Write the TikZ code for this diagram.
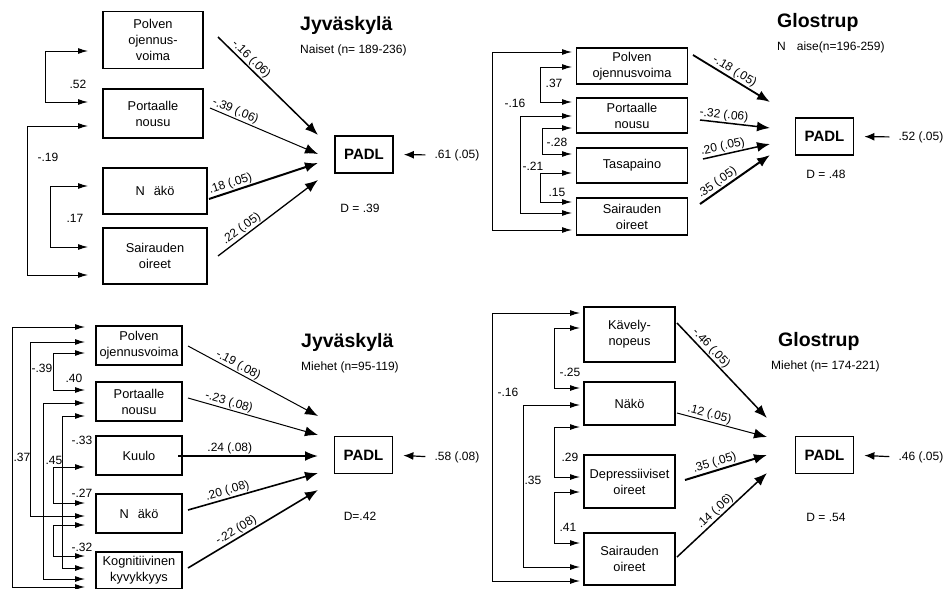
\documentclass[tikz,border=0pt]{standalone}
\usepackage{fontspec}
\setmainfont{Liberation Sans}
\usetikzlibrary{arrows.meta, positioning, calc}

\newcommand{\boxfont}{\fontsize{12.8}{16}\selectfont}
\newcommand{\coeffont}{\fontsize{12}{14}\selectfont}
\newcommand{\titlefont}{\fontsize{19.5}{22}\selectfont\bfseries}
\newcommand{\padlfont}{\fontsize{15}{18}\selectfont\bfseries}

\begin{document}
\begin{tikzpicture}[
    x=1pt, y=-1pt,
    var_block/.style={
            draw,
            line width=1.2pt,
            align=center,
            font=\boxfont,
            inner sep=1pt
        },
    padl_block/.style={
            draw,
            line width=1.8pt,
            font=\padlfont,
            minimum width=58,
            minimum height=37
        },
    coef_label/.style={font=\coeffont, inner sep=1pt},
    title_label/.style={font=\titlefont, anchor=west, inner sep=1pt},
    sub_label/.style={font=\coeffont, inner sep=1pt},
    path_arrow/.style={-{Latex[length=13pt, width=10pt]}, line width=1pt},
    corr_arrow/.style={{Latex[length=10pt, width=6pt]}-{Latex[length=10pt, width=6pt]}, line width=1pt},
    resid_arrow/.style={-{Latex[length=10pt, width=8pt]}, line width=1.2pt, shorten <=8pt, shorten >=10pt}
    ]

    \useasboundingbox (0,0) rectangle (946,589);

    % --- Jyvaskyla, naiset ---
    \node (polven_jn) [var_block, minimum width=100, minimum height=57] at (153,40) {Polven\\ojennus-\\voima};
    \node (portaalle_jn) [var_block, minimum width=100, minimum height=49] at (153,113.5) {Portaalle\\nousu};
    \node (nako_jn) [var_block, minimum width=104, minimum height=46] at (155,191) {N\hspace{9pt}äkö};
    \node (sairaus_jn) [var_block, minimum width=104, minimum height=56] at (155,256) {Sairauden\\oireet};
    \node (padl_jn) [padl_block] at (364,154.5) {PADL};
    \node (title_jn) [title_label] at (299,25) {Jyväskylä};
    \node (sub_jn) [sub_label, below=8pt of title_jn.south west, anchor=north west] {Naiset (n= 189-236)};
    \node (e_jn) [coef_label] at (457,155) {.61 (.05)};
    \node (d_jn) [coef_label] at (360,208) {D = .39};

    \coordinate (jn_s1) at (218,37);  \coordinate (jn_t1) at (318,135);
    \coordinate (jn_s2) at (210,108); \coordinate (jn_t2) at (318,154);
    \coordinate (jn_s3) at (209,199); \coordinate (jn_t3) at (318,163);
    \coordinate (jn_s4) at (218,256); \coordinate (jn_t4) at (318,180);

    \draw[path_arrow, line width=1.5pt] (jn_s1) -- (jn_t1) node (jn_p1) [coef_label, sloped, above, pos=0.28] {-.16 (.06)};
    \draw[path_arrow] (jn_s2) -- (jn_t2) node (jn_p2) [coef_label, sloped, above, pos=0.21] {-.39 (.06)};
    \draw[path_arrow, line width=2pt] (jn_s3) -- (jn_t3) node (jn_p3) [coef_label, sloped, above, pos=0.22] {.18 (.05)};
    \draw[path_arrow, line width=1.3pt] (jn_s4) -- (jn_t4) node (jn_p4) [coef_label, sloped, above, pos=0.28] {.22 (.05)};
    \draw[resid_arrow] (e_jn.west) -- (padl_jn.east);

    \coordinate (jn_a1) at (88,51);  \coordinate (jn_a2) at (88,102);
    \coordinate (jn_b1) at (88,126); \coordinate (jn_b2) at (88,275);
    \coordinate (jn_c1) at (88,186); \coordinate (jn_c2) at (88,247);
    \draw[corr_arrow] (jn_a1) -- ++(-43,0) |- (jn_a2);
    \draw[corr_arrow] (jn_b1) -- ++(-61,0) |- (jn_b2);
    \draw[corr_arrow] (jn_c1) -- ++(-38,0) |- (jn_c2);
    \node (jn_r1) [coef_label] at (78,84) {.52};
    \node (jn_r2) [coef_label] at (48,157) {-.19};
    \node (jn_r3) [coef_label] at (75,218) {.17};

    % --- Glostrup, naiset ---
    \node (polven_gn) [var_block, minimum width=111, minimum height=36] at (632,66) {Polven\\ojennusvoima};
    \node (portaalle_gn) [var_block, minimum width=111, minimum height=35] at (632,115.5) {Portaalle\\nousu};
    \node (tasapaino_gn) [var_block, minimum width=111, minimum height=35] at (632,165.5) {Tasapaino};
    \node (sairaus_gn) [var_block, minimum width=111, minimum height=37] at (632,216.5) {Sairauden\\oireet};
    \node (padl_gn) [padl_block] at (824.5,136.5) {PADL};
    \node (title_gn) [title_label] at (776,22) {Glostrup};
    \node (sub_gn) [sub_label, below=8pt of title_gn.south west, anchor=north west] {N\hspace{11pt}aise(n=196-259)};
    \node (e_gn) [coef_label] at (921,137) {.52 (.05)};
    \node (d_gn) [coef_label] at (826,174) {D = .48};

    \coordinate (gn_s1) at (693,55);  \coordinate (gn_t1) at (770,102);
    \coordinate (gn_s2) at (700,120); \coordinate (gn_t2) at (770,128);
    \coordinate (gn_s3) at (703,159); \coordinate (gn_t3) at (770,144);
    \coordinate (gn_s4) at (700,204); \coordinate (gn_t4) at (770,155);

    \draw[path_arrow, line width=1.8pt] (gn_s1) -- (gn_t1) node (gn_p1) [coef_label, sloped, above, pos=0.49] {-.18 (.05)};
    \draw[path_arrow, line width=1.5pt] (gn_s2) -- (gn_t2) node (gn_p2) [coef_label, sloped, above, pos=0.33] {-.32 (.06)};
    \draw[path_arrow, line width=1.5pt] (gn_s3) -- (gn_t3) node (gn_p3) [coef_label, sloped, above, pos=0.32] {.20 (.05)};
    \draw[path_arrow, line width=2pt] (gn_s4) -- (gn_t4) node (gn_p4) [coef_label, sloped, above, pos=0.31] {.35 (.05)};
    \draw[resid_arrow] (e_gn.west) -- (padl_gn.east);

    \coordinate (gn_a1) at (572,52);  \coordinate (gn_a2) at (572,230);
    \coordinate (gn_b1) at (572,67);  \coordinate (gn_b2) at (572,102);
    \coordinate (gn_c1) at (572,116); \coordinate (gn_c2) at (572,213);
    \coordinate (gn_d1) at (572,128); \coordinate (gn_d2) at (572,154);
    \coordinate (gn_e1) at (572,173); \coordinate (gn_e2) at (572,202);
    \draw[corr_arrow] (gn_a1) -- ++(-80,0) |- (gn_a2);
    \draw[corr_arrow] (gn_b1) -- ++(-32,0) |- (gn_b2);
    \draw[corr_arrow] (gn_c1) -- ++(-52,0) |- (gn_c2);
    \draw[corr_arrow] (gn_d1) -- ++(-30,0) |- (gn_d2);
    \draw[corr_arrow] (gn_e1) -- ++(-32,0) |- (gn_e2);
    \node (gn_r1) [coef_label] at (515,103) {-.16};
    \node (gn_r2) [coef_label] at (554,83) {.37};
    \node (gn_r3) [coef_label] at (533,166) {-.21};
    \node (gn_r4) [coef_label] at (557,142) {-.28};
    \node (gn_r5) [coef_label] at (557,192) {.15};

    % --- Jyvaskyla, miehet ---
    \node (polven_jm) [var_block, minimum width=86, minimum height=39] at (139,345.5) {Polven\\ojennusvoima};
    \node (portaalle_jm) [var_block, minimum width=86, minimum height=39] at (139,401.5) {Portaalle\\nousu};
    \node (kuulo_jm) [var_block, minimum width=86, minimum height=39] at (139,455.5) {Kuulo};
    \node (nako_jm) [var_block, minimum width=86, minimum height=39] at (139,513.5) {N\hspace{9pt}äkö};
    \node (kogn_jm) [var_block, minimum width=86, minimum height=37] at (139,570.5) {Kognitiivinen\\kyvykkyys};
    \node (padl_jm) [padl_block] at (363.5,455) {PADL};
    \node (title_jm) [title_label] at (300,342) {Jyväskylä};
    \node (sub_jm) [sub_label, below=8pt of title_jm.south west, anchor=north west] {Miehet (n=95-119)};
    \node (e_jm) [coef_label] at (457,457) {.58 (.08)};
    \node (d_jm) [coef_label] at (360,516) {D=.42};

    \coordinate (jm_s1) at (188,346); \coordinate (jm_t1) at (318,416);
    \coordinate (jm_s2) at (188,398); \coordinate (jm_t2) at (318,435);
    \coordinate (jm_s3) at (178,456); \coordinate (jm_t3) at (318,456);
    \coordinate (jm_s4) at (188,510); \coordinate (jm_t4) at (318,473);
    \coordinate (jm_s5) at (188,568); \coordinate (jm_t5) at (318,490);

    \draw[path_arrow] (jm_s1) -- (jm_t1) node (jm_p1) [coef_label, sloped, above, pos=0.36] {-.19 (.08)};
    \draw[path_arrow] (jm_s2) -- (jm_t2) node (jm_p2) [coef_label, sloped, above, pos=0.30] {-.23 (.08)};
    \draw[path_arrow, line width=2pt] (jm_s3) -- (jm_t3) node (jm_p3) [coef_label, above, pos=0.37] {.24 (.08)};
    \draw[path_arrow, line width=1.6pt] (jm_s4) -- (jm_t4) node (jm_p4) [coef_label, sloped, above, pos=0.32] {.20 (.08)};
    \draw[path_arrow, line width=1.6pt] (jm_s5) -- (jm_t5) node (jm_p5) [coef_label, sloped, above, pos=0.40] {-.22 (08)};
    \draw[resid_arrow] (e_jm.west) -- (padl_jm.east);

    \coordinate (jm_a1) at (85,327); \coordinate (jm_a2) at (85,587);
    \coordinate (jm_b1) at (85,342); \coordinate (jm_b2) at (85,516);
    \coordinate (jm_c1) at (85,353); \coordinate (jm_c2) at (85,390);
    \coordinate (jm_d1) at (85,403); \coordinate (jm_d2) at (85,579);
    \coordinate (jm_e1) at (85,416); \coordinate (jm_e2) at (85,568);
    \coordinate (jm_f1) at (85,467); \coordinate (jm_f2) at (85,503);
    \coordinate (jm_g1) at (85,525); \coordinate (jm_g2) at (85,556);
    \draw[corr_arrow] (jm_a1) -- ++(-73,0) |- (jm_a2);
    \draw[corr_arrow] (jm_b1) -- ++(-55,0) |- (jm_b2);
    \draw[corr_arrow] (jm_c1) -- ++(-32,0) |- (jm_c2);
    \draw[corr_arrow] (jm_d1) -- ++(-42,0) |- (jm_d2);
    \draw[corr_arrow] (jm_e1) -- ++(-23,0) |- (jm_e2);
    \draw[corr_arrow] (jm_f1) -- ++(-32,0) |- (jm_f2);
    \draw[corr_arrow] (jm_g1) -- ++(-32,0) |- (jm_g2);
    \node (jm_r1) [coef_label] at (22,457) {.37};
    \node (jm_r2) [coef_label] at (42,368) {-.39};
    \node (jm_r3) [coef_label] at (74,378) {.40};
    \node (jm_r4) [coef_label] at (54,460) {.45};
    \node (jm_r5) [coef_label] at (82,440) {-.33};
    \node (jm_r6) [coef_label] at (82,493) {-.27};
    \node (jm_r7) [coef_label] at (82,547) {-.32};

    % --- Glostrup, miehet ---
    \node (kavely_gm) [var_block, minimum width=91, minimum height=55] at (629.5,334.5) {Kävely-\\nopeus};
    \node (nako_gm) [var_block, minimum width=91, minimum height=43] at (629.5,403.5) {Näkö};
    \node (depr_gm) [var_block, minimum width=91, minimum height=53] at (629.5,481.5) {Depressiiviset\\oireet};
    \node (sairaus_gm) [var_block, minimum width=91, minimum height=52] at (629.5,559) {Sairauden\\oireet};
    \node (padl_gm) [padl_block] at (824.5,455) {PADL};
    \node (title_gm) [title_label] at (777,341) {Glostrup};
    \node (sub_gm) [sub_label, below=8pt of title_gm.south west, anchor=north west, xshift=-7pt] {Miehet (n= 174-221)};
    \node (e_gm) [coef_label] at (921,457) {.46 (.05)};
    \node (d_gm) [coef_label] at (826,517) {D = .54};

    \coordinate (gm_s1) at (677,323); \coordinate (gm_t1) at (767,418);
    \coordinate (gm_s2) at (677,413); \coordinate (gm_t2) at (767,437);
    \coordinate (gm_s3) at (685,480); \coordinate (gm_t3) at (767,455);
    \coordinate (gm_s4) at (677,557); \coordinate (gm_t4) at (767,473);

    \draw[path_arrow, line width=1.5pt] (gm_s1) -- (gm_t1) node (gm_p1) [coef_label, sloped, above, pos=0.32] {-.46 (.05)};
    \draw[path_arrow] (gm_s2) -- (gm_t2) node (gm_p2) [coef_label, sloped, above, pos=0.34] {.12 (.05)};
    \draw[path_arrow, line width=2pt] (gm_s3) -- (gm_t3) node (gm_p3) [coef_label, sloped, above, pos=0.39] {.35 (.05)};
    \draw[path_arrow, line width=1.5pt] (gm_s4) -- (gm_t4) node (gm_p4) [coef_label, sloped, above, pos=0.48] {.14 (.06)};
    \draw[resid_arrow] (e_gm.west) -- (padl_gm.east);

    \coordinate (gm_a1) at (580,313); \coordinate (gm_a2) at (580,581);
    \coordinate (gm_b1) at (580,328); \coordinate (gm_b2) at (580,388);
    \coordinate (gm_c1) at (580,405); \coordinate (gm_c2) at (580,567);
    \coordinate (gm_d1) at (580,427); \coordinate (gm_d2) at (580,477);
    \coordinate (gm_e1) at (580,492); \coordinate (gm_e2) at (580,543);
    \draw[corr_arrow] (gm_a1) -- ++(-88,0) |- (gm_a2);
    \draw[corr_arrow] (gm_b1) -- ++(-26,0) |- (gm_b2);
    \draw[corr_arrow] (gm_c1) -- ++(-57,0) |- (gm_c2);
    \draw[corr_arrow] (gm_d1) -- ++(-26,0) |- (gm_d2);
    \draw[corr_arrow] (gm_e1) -- ++(-26,0) |- (gm_e2);
    \node (gm_r1) [coef_label] at (508,392) {-.16};
    \node (gm_r2) [coef_label] at (570,372) {-.25};
    \node (gm_r3) [coef_label] at (533,480) {.35};
    \node (gm_r4) [coef_label] at (570,457) {.29};
    \node (gm_r5) [coef_label] at (568,527) {.41};

\end{tikzpicture}
\end{document}
